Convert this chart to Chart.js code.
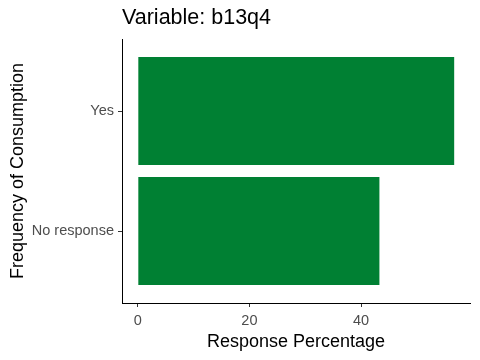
<!DOCTYPE html>
<html><head><meta charset="utf-8">
<script src="https://cdn.jsdelivr.net/npm/chart.js@4.4.0/dist/chart.umd.min.js"></script>
<style>html,body{margin:0;padding:0;background:#fff}#wrap{width:480px;height:360px}</style>
</head><body><div id="wrap"><canvas id="c" width="480" height="360"></canvas></div>
<script>
const categories = ['No response', 'Yes'];
const values = [43.3, 56.7];
const xTicks = [0, 20, 40];
const titleText = 'Variable: b13q4';
const xTitle = 'Response Percentage';
const yTitle = 'Frequency of Consumption';

const FONT = "'Liberation Sans', Arial, sans-serif";
const points = values.map((v, i) => ({ x: v, y: i + 1 }));
const yPositions = categories.map((c, i) => i + 1);

new Chart(document.getElementById('c'), {
  type: 'bar',
  data: { datasets: [{ data: points, backgroundColor: '#008033', borderWidth: 0,
    categoryPercentage: 1, barPercentage: 0.9 }] },
  options: {
    indexAxis: 'y', responsive: false, animation: false,
    layout: { padding: { left: 0, right: 10, top: 0, bottom: 0 } },
    plugins: {
      legend: { display: false }, tooltip: { enabled: false },
      title: { display: true, text: titleText, align: 'start', fullSize: false,
        color: '#000', font: { family: FONT, size: 21.5, weight: 'normal', lineHeight: 1.2 },
        padding: { top: 5, bottom: 8.2 } }
    },
    scales: {
      x: { type: 'linear', min: -2.835, max: 59.535, offset: false,
        afterBuildTicks: s => { s.ticks = xTicks.map(v => ({ value: v })); },
        afterFit: s => { s.height = 57; },
        border: { display: true, color: '#000', width: 1 },
        grid: { display: true, offset: false, drawOnChartArea: false, drawTicks: true, tickLength: 4, color: '#333' },
        ticks: { color: '#4d4d4d', font: { family: FONT, size: 14.5 }, padding: 5 },
        title: { display: true, text: xTitle, color: '#000', font: { family: FONT, size: 18, lineHeight: 1.2 }, padding: { top: 2, bottom: 7.2 } }
      },
      y: { type: 'linear', min: 0.4, max: 2.6, offset: false,
        afterBuildTicks: s => { s.ticks = yPositions.map(v => ({ value: v })); },
        afterFit: s => { s.width = 122; },
        border: { display: true, color: '#000', width: 1 },
        grid: { display: true, offset: false, drawOnChartArea: false, drawTicks: true, tickLength: 4, color: '#333' },
        ticks: { color: '#4d4d4d', font: { family: FONT, size: 14.5 }, padding: 4,
          callback: v => categories[Math.round(v) - 1] },
        title: { display: true, text: yTitle, color: '#000', font: { family: FONT, size: 18, lineHeight: 1.2 }, padding: { top: 7.2, bottom: 4 } }
      }
    }
  }
});
</script></body></html>
